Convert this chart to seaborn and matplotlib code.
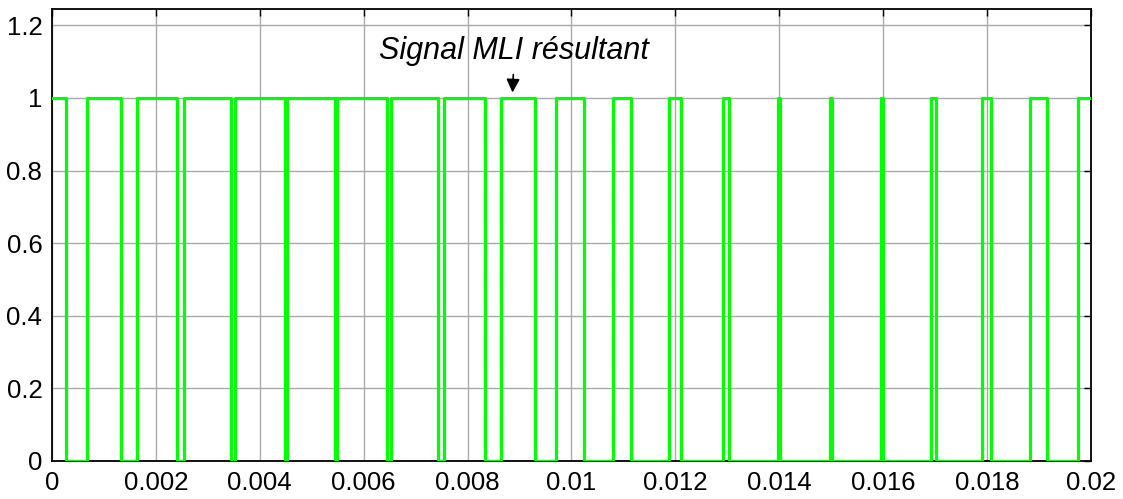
import numpy as np
import pandas as pd
import matplotlib
matplotlib.use("Agg")
import matplotlib.pyplot as plt
import seaborn as sns

# Switching instants (s) of the PWM signal and the level held after each one
switch_times = [0.0, 0.00027, 0.00068, 0.00133, 0.00163, 0.00241, 0.00254,
                0.00345, 0.00352, 0.00449, 0.00452, 0.00545, 0.00548,
                0.00645, 0.00652, 0.00743, 0.00754, 0.00834, 0.00864,
                0.00930, 0.00970, 0.01025, 0.01080, 0.01114, 0.01188,
                0.01210, 0.01292, 0.01304, 0.01397, 0.01401, 0.01497,
                0.01501, 0.01596, 0.01600, 0.01692, 0.01702, 0.01790,
                0.01807, 0.01882, 0.01916, 0.01975, 0.02]
levels = [1, 0, 1, 0, 1, 0, 1,
          0, 1, 0, 1, 0, 1,
          0, 1, 0, 1, 0, 1,
          0, 1, 0, 1, 0, 1,
          0, 1, 0, 1, 0, 1,
          0, 1, 0, 1, 0, 1,
          0, 1, 0, 1, 1]

x_ticks = [0, 0.002, 0.004, 0.006, 0.008, 0.01, 0.012, 0.014, 0.016, 0.018, 0.02]
x_tick_labels = ["0", "0.002", "0.004", "0.006", "0.008", "0.01",
                 "0.012", "0.014", "0.016", "0.018", "0.02"]
y_ticks = [0, 0.2, 0.4, 0.6, 0.8, 1, 1.2]
y_tick_labels = ["0", "0.2", "0.4", "0.6", "0.8", "1", "1.2"]

annotation_text = "Signal MLI résultant"
annotation_target = (0.008865, 1.015)

sns.set_style("white")
plt.rcParams["font.family"] = ["Liberation Sans", "DejaVu Sans"]

df = pd.DataFrame({"t": switch_times, "v": levels})

fig = plt.figure(figsize=(11.23, 4.99), dpi=100)
ax = fig.add_axes([0.0463, 0.0762, 0.9252, 0.9058])

sns.lineplot(data=df, x="t", y="v", ax=ax, color="#00ff00", linewidth=2.3,
             drawstyle="steps-post", zorder=3)

ax.set_xlim(0, 0.02)
ax.set_ylim(0, 1.245)
ax.set_xticks(x_ticks)
ax.set_xticklabels(x_tick_labels)
ax.set_yticks(y_ticks)
ax.set_yticklabels(y_tick_labels)
ax.set_xlabel("")
ax.set_ylabel("")

ax.grid(True, color="#aaaaaa", linewidth=1.0, linestyle="-", zorder=0)
ax.tick_params(axis="both", which="both", direction="in", length=5, width=1,
               top=True, right=True, labelsize=18.5, colors="black", pad=7)
for spine in ax.spines.values():
    spine.set_visible(True)
    spine.set_color("black")
    spine.set_linewidth(1.3)

ax.annotate(annotation_text, xy=annotation_target, xytext=(0.0089, 1.13),
            ha="center", va="center", fontsize=22, fontstyle="italic",
            color="black",
            arrowprops=dict(arrowstyle="-|>", color="black", lw=1.2,
                            mutation_scale=20, shrinkA=4, shrinkB=0),
            zorder=5)

fig.savefig("out.png", dpi=100)
